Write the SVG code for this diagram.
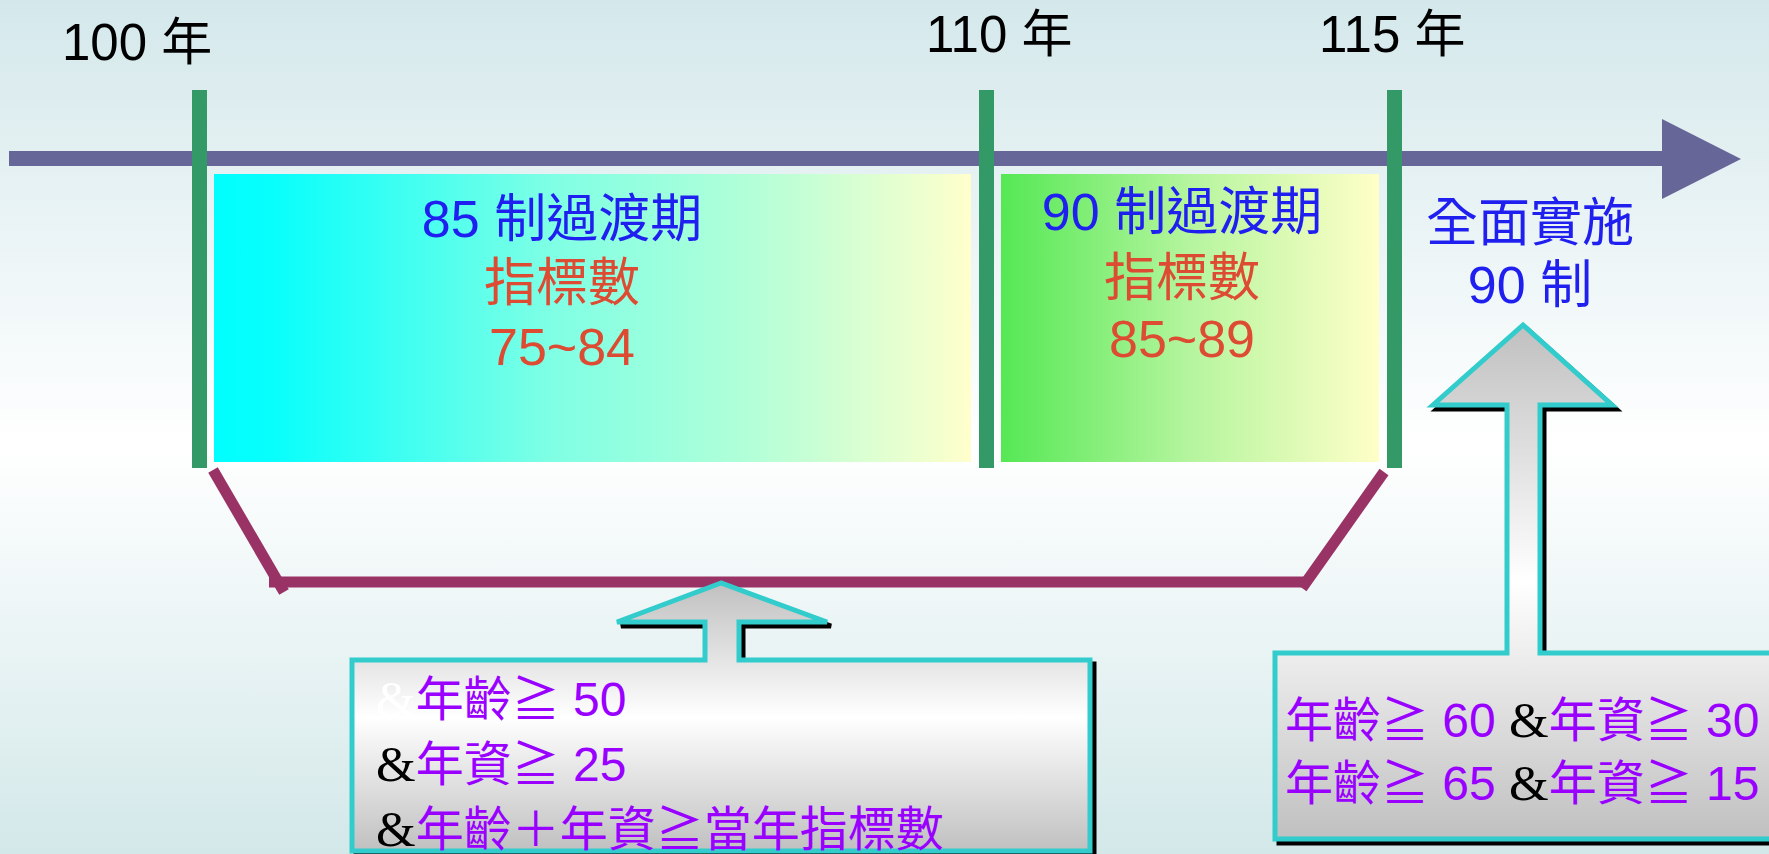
<svg xmlns="http://www.w3.org/2000/svg" width="1769" height="854" viewBox="0 0 1769 854">
<defs>
<linearGradient id="bg" x1="0" y1="0" x2="0" y2="1">
<stop offset="0" stop-color="#d4e8eb"/>
<stop offset="0.52" stop-color="#ffffff"/>
<stop offset="1" stop-color="#d3e8e9"/>
</linearGradient>
<linearGradient id="g85" x1="0" y1="0" x2="1" y2="0">
<stop offset="0" stop-color="#00ffff"/>
<stop offset="0.08" stop-color="#08fffc"/>
<stop offset="0.45" stop-color="#80ffe4"/>
<stop offset="0.7" stop-color="#b0ffd8"/>
<stop offset="1" stop-color="#ffffcc"/>
</linearGradient>
<linearGradient id="g90" x1="0" y1="0" x2="1" y2="0">
<stop offset="0" stop-color="#55e855"/>
<stop offset="0.5" stop-color="#b5f59e"/>
<stop offset="1" stop-color="#ffffc8"/>
</linearGradient>
<linearGradient id="gcall" x1="0" y1="0" x2="0" y2="1">
<stop offset="0" stop-color="#c0c0c0"/>
<stop offset="0.5" stop-color="#ffffff"/>
<stop offset="1" stop-color="#c0c0c0"/>
</linearGradient>
</defs>
<style>
.yr{font-family:"Liberation Sans","Noto Sans CJK TC",sans-serif;font-size:51px;fill:#000}
.t{font-family:"Liberation Sans","Noto Sans CJK TC",sans-serif;font-size:52px;text-anchor:middle}
.blue{fill:#1f1ff0}
.red{fill:#dd4b33}
.c{font-family:"Liberation Sans","Noto Sans CJK TC",sans-serif;font-size:48px;fill:#9900ff}
.amp{font-family:"Liberation Serif",serif;font-size:51px;fill:#000}
.post{fill:#339966}
.call{fill:url(#gcall);stroke:#33cccc;stroke-width:5;stroke-linejoin:miter}
.shadow{fill:#000;stroke:#000;stroke-width:5}
.br{stroke:#993366;stroke-width:11;fill:none}
</style>
<rect x="0" y="0" width="1769" height="854" fill="url(#bg)"/>

<g id="timeline">
<rect x="9" y="151" width="1655" height="15" fill="#666699"/>
<polygon points="1662,119 1741,159 1662,199" fill="#666699"/>
<text class="yr" x="62" y="60">100 年</text>
<text class="yr" x="926" y="52">110 年</text>
<text class="yr" x="1319" y="52">115 年</text>
</g>

<g id="box85">
<rect x="214" y="174" width="757" height="288" fill="url(#g85)"/>
<text class="t blue" x="562" y="237">85 制過渡期</text>
<text class="t red" x="562" y="301">指標數</text>
<text class="t red" x="562" y="365">75~84</text>
</g>

<g id="box90">
<rect x="1001" y="174" width="378" height="288" fill="url(#g90)"/>
<text class="t blue" x="1182" y="230">90 制過渡期</text>
<text class="t red" x="1182" y="296">指標數</text>
<text class="t red" x="1182" y="357">85~89</text>
</g>

<g id="full90">
<text class="t blue" x="1530" y="241">全面實施</text>
<text class="t blue" x="1530" y="303">90 制</text>
</g>

<g id="posts">
<rect class="post" x="192" y="90" width="15" height="378"/>
<rect class="post" x="979" y="90" width="15" height="378"/>
<rect class="post" x="1387" y="90" width="15" height="378"/>
</g>

<g id="connectors">
<line class="br" x1="213" y1="470" x2="284" y2="592"/>
<line class="br" x1="269" y1="582" x2="1306" y2="582"/>
<line class="br" x1="1302" y1="588" x2="1384" y2="472"/>
</g>

<g id="callout1">
<path class="shadow" transform="translate(4,4)" d="M721,583 L617,622 L705,622 L705,660 L352,660 L352,851 L1090,851 L1090,660 L739,660 L739,622 L827,622 Z"/>
<path class="call" d="M721,583 L617,622 L705,622 L705,660 L352,660 L352,851 L1090,851 L1090,660 L739,660 L739,622 L827,622 Z"/>
<text class="c" x="376" y="716"><tspan class="amp" style="fill:#ffffff">&amp;</tspan>年齡≧ 50</text>
<text class="c" x="376" y="781"><tspan class="amp">&amp;</tspan>年資≧ 25</text>
<text class="c" x="376" y="846"><tspan class="amp">&amp;</tspan>年齡＋年資≧當年指標數</text>
</g>

<g id="callout2">
<path class="shadow" transform="translate(4,4)" d="M1523,325 L1433,405 L1507,405 L1507,653 L1275,653 L1275,839 L1790,839 L1790,653 L1540,653 L1540,405 L1612,405 Z"/>
<path class="call" d="M1523,325 L1433,405 L1507,405 L1507,653 L1275,653 L1275,839 L1790,839 L1790,653 L1540,653 L1540,405 L1612,405 Z"/>
<text class="c" x="1285" y="737">年齡≧ 60 <tspan class="amp">&amp;</tspan>年資≧ 30</text>
<text class="c" x="1285" y="800">年齡≧ 65 <tspan class="amp">&amp;</tspan>年資≧ 15</text>
</g>
</svg>
